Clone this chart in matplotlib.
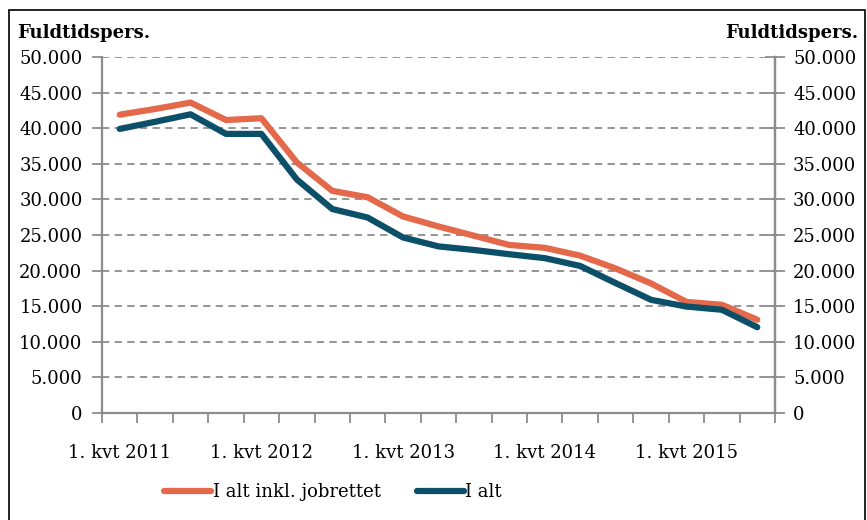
import matplotlib.pyplot as plt
from matplotlib.ticker import FuncFormatter, FixedLocator
from matplotlib.patches import Rectangle

plt.rcParams['font.family'] = ['DejaVu Serif']

quarters = [f"{q}. kvt {y}" for y in range(2011, 2016) for q in range(1, 5)][:19]
inkl_jobrettet = [41900, 42700, 43600, 41150, 41400, 35200, 31200, 30300, 27600,
                  26200, 24900, 23600, 23200, 22100, 20300, 18200, 15600, 15200, 13100]
i_alt = [39900, 40900, 41950, 39200, 39200, 32800, 28650, 27450, 24650,
         23400, 22900, 22300, 21750, 20650, 18250, 15900, 14950, 14500, 12050]
tick_labels = ["1. kvt 2011", "1. kvt 2012", "1. kvt 2013", "1. kvt 2014", "1. kvt 2015"]

orange = '#E4694A'
blue = '#0B4F68'
grey = '#8C8C8C'
fs = 13

fig = plt.figure(figsize=(8.67, 5.2), dpi=100)
ax = fig.add_axes([102 / 867, 107 / 520, 673 / 867, 356 / 520])

x = list(range(len(quarters)))
ax.plot(x, inkl_jobrettet, color=orange, lw=4.5, solid_capstyle='round', label='I alt inkl. jobrettet')
ax.plot(x, i_alt, color=blue, lw=4.5, solid_capstyle='round', label='I alt')

ax.set_xlim(-0.5, len(quarters) - 0.5)
ax.set_ylim(0, 50000)
ax.set_yticks(range(0, 50001, 5000))
fmt = FuncFormatter(lambda v, p: f"{int(v):,}".replace(",", "."))
ax.yaxis.set_major_formatter(fmt)
ax.grid(axis='y', color=grey, ls=(0, (4, 3)), lw=1.3)
ax.set_axisbelow(True)

ax.set_xticks([0, 4, 8, 12, 16])
ax.set_xticklabels(tick_labels)
ax.xaxis.set_minor_locator(FixedLocator([i - 0.5 for i in range(len(quarters) + 1)]))
ax.tick_params(axis='x', which='major', length=0, pad=22, labelsize=fs)
ax.tick_params(axis='x', which='minor', length=7, width=1.3, color=grey, direction='out')
ax.tick_params(axis='y', length=7, width=1.3, color=grey, direction='out', pad=7, labelsize=fs)

ax.spines['top'].set_visible(False)
for s in ['left', 'bottom', 'right']:
    ax.spines[s].set_color(grey)
    ax.spines[s].set_linewidth(1.6)

ax2 = ax.twinx()
ax2.set_ylim(0, 50000)
ax2.set_yticks(range(0, 50001, 5000))
ax2.yaxis.set_major_formatter(fmt)
ax2.tick_params(axis='y', length=14, width=1.3, color=grey, direction='inout', pad=6, labelsize=fs)
for s in ['top', 'left', 'bottom']:
    ax2.spines[s].set_visible(False)
ax2.spines['right'].set_color(grey)
ax2.spines['right'].set_linewidth(1.6)

fig.text(17 / 867, 1 - 33 / 520, "Fuldtidspers.", fontsize=fs, fontweight='bold', va='center', ha='left')
fig.text(858 / 867, 1 - 33 / 520, "Fuldtidspers.", fontsize=fs, fontweight='bold', va='center', ha='right')

fig.legend(loc='center', bbox_to_anchor=(333 / 867, 1 - 492 / 520), ncol=2, frameon=False,
           fontsize=fs, handlelength=2.6, handletextpad=0.1, columnspacing=2.0)

fig.patches.append(Rectangle((9 / 867, -0.05), 856 / 867, 1.05 - 10 / 520, transform=fig.transFigure,
                             fill=False, edgecolor='black', lw=1.2))

fig.savefig("out.png", dpi=100)
